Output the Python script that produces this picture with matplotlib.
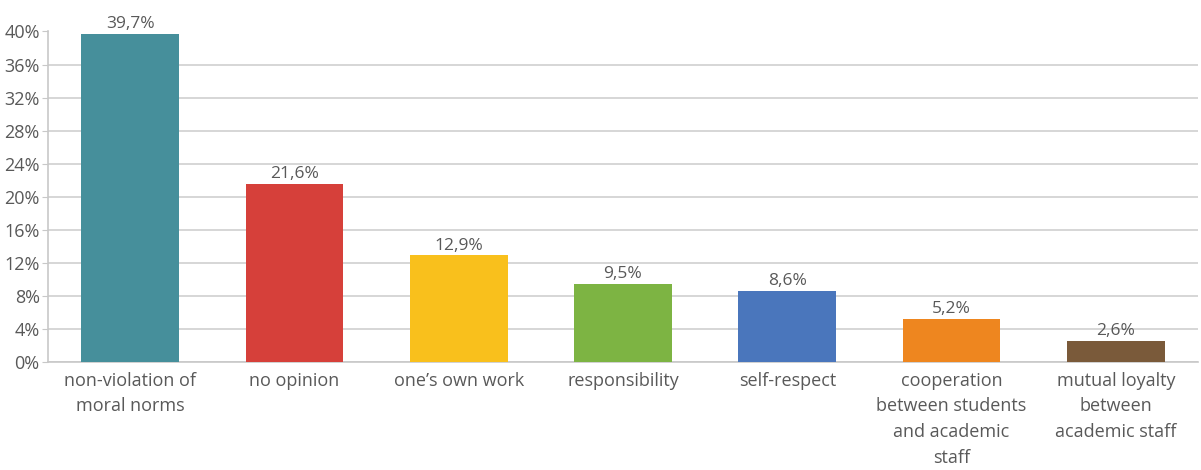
import numpy as np
import matplotlib.pyplot as plt
from matplotlib.ticker import FuncFormatter

categories = ["non-violation of\nmoral norms", "no opinion", "one\u2019s own work",
              "responsibility", "self-respect",
              "cooperation\nbetween students\nand academic\nstaff",
              "mutual loyalty\nbetween\nacademic staff"]
values = [39.7, 21.6, 12.9, 9.5, 8.6, 5.2, 2.6]
colors = ["#468F9B", "#D6403A", "#F9C01C", "#7DB443", "#4A76BC", "#EE861F", "#7A5A3A"]
yticks = [0, 4, 8, 12, 16, 20, 24, 28, 32, 36, 40]

plt.rcParams['font.family'] = ['Open Sans', 'DejaVu Sans']
txt = "#595959"

fig = plt.figure(figsize=(12.01, 4.7), dpi=100)
ax = fig.add_axes([48/1201, 1 - 362/470, 1150/1201, 330.5/470])

x = np.arange(len(values))
ax.bar(x, values, width=0.595, color=colors, zorder=3)
for xi, v in zip(x, values):
    ax.text(xi, v + 0.2, f"{v:.1f}%".replace(".", ","), ha='center', va='bottom',
            fontsize=12.5, color=txt)

ax.set_xlim(-0.5, len(values) - 0.5)
ax.set_ylim(0, 40)
ax.set_yticks(yticks)
ax.yaxis.set_major_formatter(FuncFormatter(lambda v, p: f"{v:.0f}%"))
ax.set_xticks(x)
ax.set_xticklabels(categories, fontsize=13, color=txt, linespacing=1.55)
ax.tick_params(axis='y', labelsize=13, labelcolor=txt, length=4, color="#c8c8c8", pad=2)
ax.tick_params(axis='x', length=0, pad=7)
ax.yaxis.grid(True, color="#d0d0d0", linewidth=1.2, zorder=0)
for s in ['top', 'right']:
    ax.spines[s].set_visible(False)
ax.spines['left'].set_color("#c8c8c8")
ax.spines['bottom'].set_color("#c8c8c8")
ax.spines['left'].set_linewidth(1.2)
ax.spines['bottom'].set_linewidth(1.2)

fig.savefig("out.png", dpi=100)
